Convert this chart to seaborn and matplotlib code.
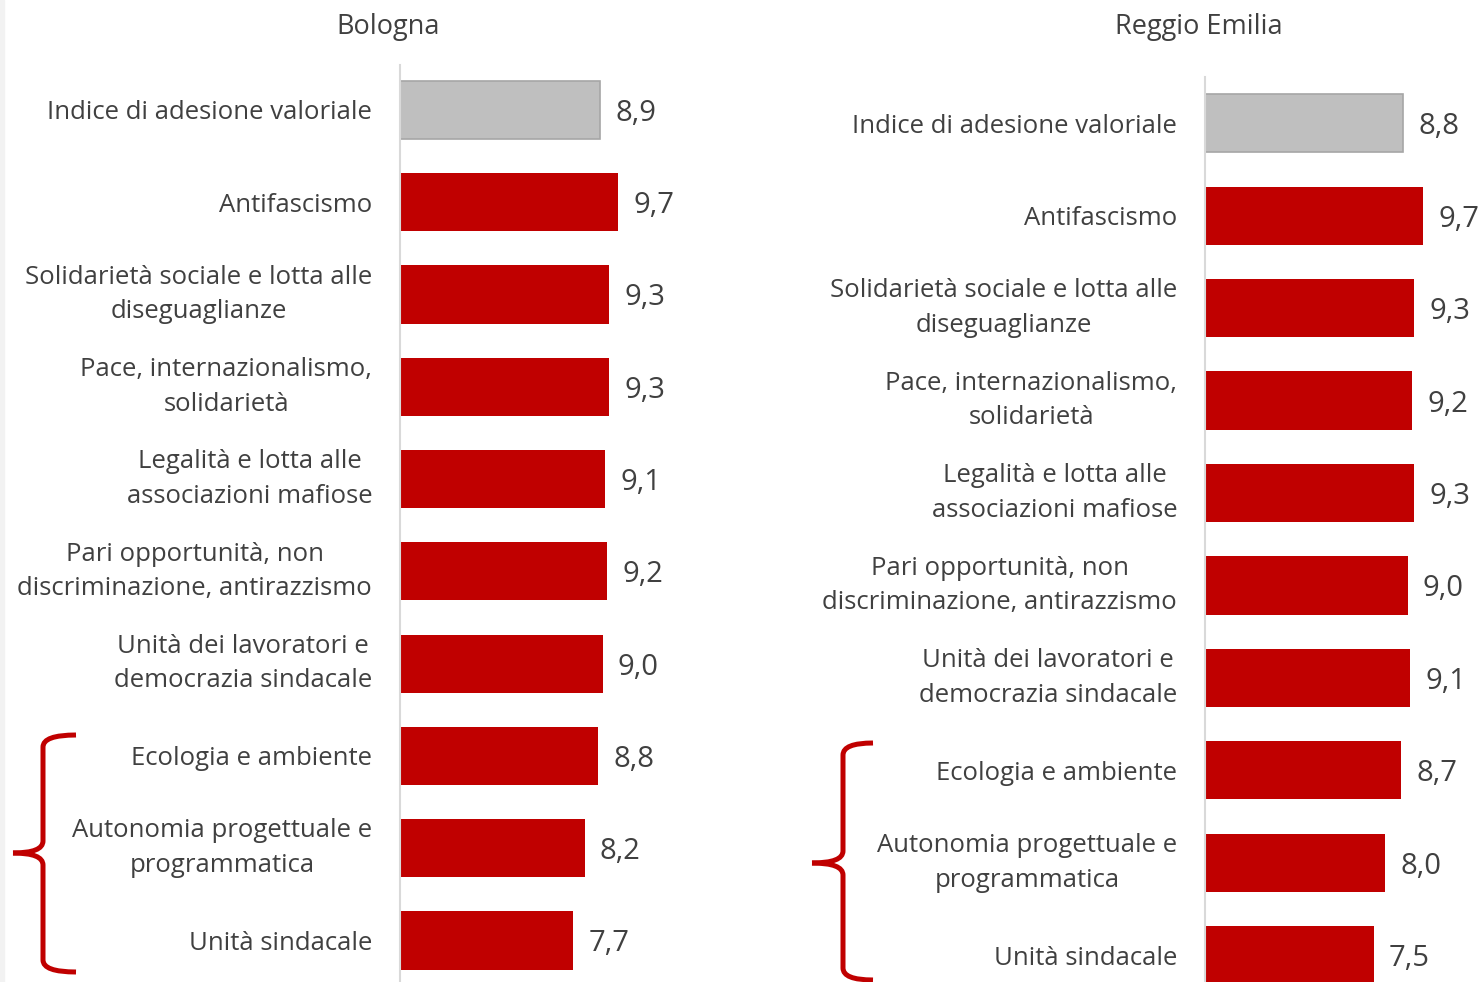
import matplotlib
matplotlib.use("Agg")
import matplotlib.pyplot as plt
from matplotlib.path import Path
from matplotlib.patches import PathPatch, Rectangle
import seaborn as sns

W, H = 1483, 982

categories = [
    "Indice di adesione valoriale",
    "Antifascismo",
    "Solidarietà sociale e lotta alle\ndiseguaglianze",
    "Pace, internazionalismo,\nsolidarietà",
    "Legalità e lotta alle\nassociazioni mafiose",
    "Pari opportunità, non\ndiscriminazione, antirazzismo",
    "Unità dei lavoratori e\ndemocrazia sindacale",
    "Ecologia e ambiente",
    "Autonomia progettuale e\nprogrammatica",
    "Unità sindacale",
]
bologna = [8.9, 9.7, 9.3, 9.3, 9.1, 9.2, 9.0, 8.8, 8.2, 7.7]
reggio = [8.8, 9.7, 9.3, 9.2, 9.3, 9.0, 9.1, 8.7, 8.0, 7.5]

RED = "#C00000"
GREY = "#BFBFBF"
TXT = "#404040"

sns.set_style("white")
plt.rcParams["font.family"] = ["Open Sans", "DejaVu Sans"]

fig = plt.figure(figsize=(W / 100, H / 100), dpi=100)
fig.patches.append(Rectangle((0, 0), 4 / W, 1, transform=fig.transFigure,
                             color="#F2F2F2", zorder=0))


def px_box(left, top, width, bottom=H):
    return [left / W, 1 - bottom / H, width / W, (bottom - top) / H]


def draw_panel(ax, values, ylim):
    palette = [GREY] + [RED] * (len(categories) - 1)
    sns.barplot(x=values, y=categories, hue=categories, palette=palette,
                legend=False, orient="h", width=0.63, ax=ax, saturation=1)
    for i, p in enumerate(ax.patches):
        if i == 0:
            p.set_edgecolor("#A6A6A6")
            p.set_linewidth(1.2)
        else:
            p.set_linewidth(0)
    ax.set_xlim(0, 12)
    ax.set_ylim(*ylim)
    ax.set_xticks([])
    ax.set_xlabel("")
    ax.set_ylabel("")
    for s in ["top", "right", "bottom"]:
        ax.spines[s].set_visible(False)
    ax.spines["left"].set_color("#D9D9D9")
    ax.spines["left"].set_linewidth(1.5)
    ax.tick_params(axis="y", length=0, pad=20, labelsize=18.5, labelcolor=TXT)
    for lab in ax.get_yticklabels():
        lab.set_multialignment("center")
        lab.set_linespacing(1.5)
        if "\n" in lab.get_text():
            lab.set_verticalalignment("center")
    for i, v in enumerate(values):
        ax.annotate(f"{v:.1f}".replace(".", ","), (v, i), xytext=(11, -2.5),
                    textcoords="offset points", ha="left", va="center",
                    fontsize=21, color=TXT, annotation_clip=False)
    ax.patch.set_alpha(0)


ax1 = fig.add_axes(px_box(400, 65, 270))
draw_panel(ax1, bologna, (9.45, -0.487))
ax2 = fig.add_axes(px_box(1205, 77, 270))
draw_panel(ax2, reggio, (9.29, -0.5))

fig.text(388 / W, 1 - 27 / H, "Bologna", ha="center", va="center",
         fontsize=19.5, color=TXT)
fig.text(1199 / W, 1 - 27 / H, "Reggio Emilia", ha="center", va="center",
         fontsize=19.5, color=TXT)


def brace(x_spine, top, mid, bottom, tip, right):
    r = 12
    pts = [
        (right, top), (x_spine, top), (x_spine, top + r),
        (x_spine, mid - r), (x_spine, mid), (tip, mid),
    ]
    pts2 = [
        (tip, mid), (x_spine, mid), (x_spine, mid + r),
        (x_spine, bottom - r), (x_spine, bottom), (right, bottom),
    ]
    codes = [Path.MOVETO, Path.CURVE3, Path.CURVE3,
             Path.LINETO, Path.CURVE3, Path.CURVE3]
    for p in (pts, pts2):
        verts = [(x / W, 1 - y / H) for x, y in p]
        fig.patches.append(PathPatch(Path(verts, codes), transform=fig.transFigure,
                                     fill=False, edgecolor=RED, linewidth=3.6,
                                     capstyle="butt", joinstyle="round"))


brace(43, 735, 853, 972, 13, 76)
brace(843, 743, 863, 980, 812, 873)

fig.savefig("out.png", dpi=100)
